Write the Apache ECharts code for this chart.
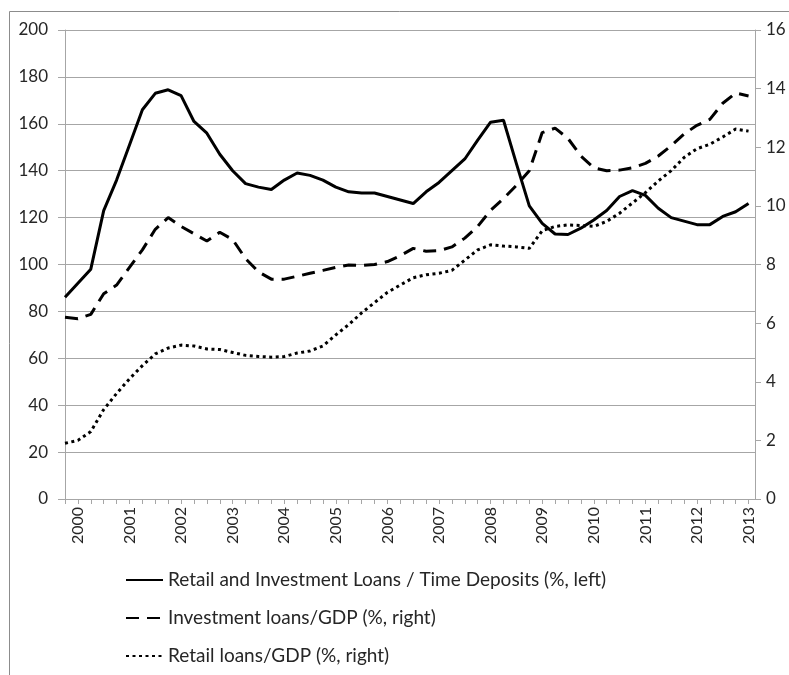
<!DOCTYPE html>
<html>
<head>
<meta charset="utf-8">
<script src="https://cdn.jsdelivr.net/npm/echarts@6/dist/echarts.min.js"></script>
<style>
  html, body { margin: 0; padding: 0; background: #fff; }
  #chart { width: 789px; height: 675px; }
</style>
</head>
<body>
<div id="chart"></div>
<script>
// quarterly points, index 0 = 1999 Q4, year labels sit on Q1 of each year
const years = ['2000', '2001', '2002', '2003', '2004', '2005', '2006',
  '2007', '2008', '2009', '2010', '2011', '2012', '2013'];

// Retail and Investment Loans / Time Deposits (%, left)
const loansToDeposits = [
  86, 92, 98, 123, 136, 151, 166, 173, 174.5, 172,
  161, 156, 147, 140, 134.5, 133, 132, 136, 139, 138,
  136, 133, 131, 130.5, 130.5, 129, 127.5, 126, 131, 135,
  140, 145, 153, 160.7, 161.5, 143, 125, 117.5, 113, 112.8,
  115.5, 119, 123, 129, 131.5, 129.5, 124, 120, 118.5, 117,
  117, 120.5, 122.5, 126,
];

// Investment loans/GDP (%, right)
const investGdp = [
  6.2, 6.15, 6.3, 7.0, 7.3, 7.9, 8.5, 9.2, 9.6, 9.3,
  9.05, 8.8, 9.1, 8.85, 8.2, 7.75, 7.5, 7.5, 7.6, 7.7,
  7.8, 7.9, 7.98, 7.97, 8.0, 8.1, 8.3, 8.55, 8.45, 8.47,
  8.6, 8.9, 9.3, 9.85, 10.25, 10.7, 11.2, 12.5, 12.65, 12.3,
  11.7, 11.3, 11.2, 11.22, 11.3, 11.45, 11.7, 12.05, 12.45, 12.75,
  12.95, 13.5, 13.85, 13.75,
];

// Retail loans/GDP (%, right)
const retailGdp = [
  1.9, 2.0, 2.3, 3.05, 3.6, 4.1, 4.55, 4.95, 5.15, 5.25,
  5.22, 5.12, 5.1, 5.0, 4.9, 4.86, 4.84, 4.86, 4.98, 5.05,
  5.22, 5.6, 5.95, 6.35, 6.7, 7.05, 7.3, 7.55, 7.65, 7.7,
  7.8, 8.15, 8.5, 8.67, 8.63, 8.6, 8.55, 9.15, 9.3, 9.35,
  9.33, 9.3, 9.47, 9.75, 10.1, 10.45, 10.85, 11.2, 11.65, 11.95,
  12.1, 12.35, 12.62, 12.55,
];

const FONT = 'Lato, "Open Sans", sans-serif';
const GRID = '#a6a6a6';
const INK = '#262626';

const tickIdx = loansToDeposits.map((_, i) => i);
const labelIdx = years.map((_, k) => 1 + k * 4);
const pts = (arr) => arr.map((v, i) => [i, v]);

const chart = echarts.init(document.getElementById('chart'), null, { renderer: 'canvas' });

chart.setOption({
  animation: false,
  backgroundColor: '#fff',
  textStyle: { fontFamily: FONT, color: INK },
  graphic: [{
    type: 'rect', silent: true,
    shape: { x: 9.5, y: 11.5, width: 820, height: 700 },
    style: { fill: 'none', stroke: '#8c8c8c', lineWidth: 1 },
  }],
  grid: { left: 65, right: 34, top: 30, bottom: 176 },
  legend: {
    orient: 'vertical', left: 120, top: 565,
    itemWidth: 37, itemHeight: 20, itemGap: 18,
    itemStyle: { opacity: 0 },
    textStyle: { fontFamily: FONT, fontSize: 19, color: INK, lineHeight: 20 },
    data: [
      'Retail and Investment Loans / Time Deposits (%, left)',
      'Investment loans/GDP (%, right)',
      'Retail loans/GDP (%, right)',
    ],
  },
  xAxis: {
    type: 'value', min: 0, max: 53.5, interval: 1,
    axisLine: { lineStyle: { color: GRID, width: 1 } },
    axisTick: { customValues: tickIdx, length: 5, lineStyle: { color: GRID } },
    axisLabel: {
      customValues: labelIdx, rotate: 90, margin: 8,
      fontFamily: FONT, fontSize: 16, color: INK,
      formatter: (v) => years[(v - 1) / 4],
    },
    splitLine: { show: false },
  },
  yAxis: [{
    type: 'value', min: 0, max: 200, interval: 20,
    axisLine: { show: true, lineStyle: { color: GRID } },
    axisTick: { show: true, length: 7, lineStyle: { color: GRID } },
    axisLabel: { fontFamily: FONT, fontSize: 17, color: INK, margin: 17 },
    splitLine: { lineStyle: { color: GRID, width: 1 } },
  }, {
    type: 'value', min: 0, max: 16, interval: 2,
    axisLine: { show: true, lineStyle: { color: GRID } },
    axisTick: { show: true, length: 6, lineStyle: { color: GRID } },
    axisLabel: { fontFamily: FONT, fontSize: 17, color: INK, margin: 11 },
    splitLine: { show: false },
  }],
  series: [{
    name: 'Retail and Investment Loans / Time Deposits (%, left)',
    type: 'line', yAxisIndex: 0, data: pts(loansToDeposits),
    symbol: 'none', lineStyle: { color: '#000', width: 3 }, itemStyle: { color: '#000' },
  }, {
    name: 'Investment loans/GDP (%, right)',
    type: 'line', yAxisIndex: 1, data: pts(investGdp),
    symbol: 'none', lineStyle: { color: '#000', width: 3, type: [13, 8] }, itemStyle: { color: '#000' },
  }, {
    name: 'Retail loans/GDP (%, right)',
    type: 'line', yAxisIndex: 1, data: pts(retailGdp),
    symbol: 'none', lineStyle: { color: '#000', width: 3, type: [3, 3.5] }, itemStyle: { color: '#000' },
  }],
});
</script>
</body>
</html>
